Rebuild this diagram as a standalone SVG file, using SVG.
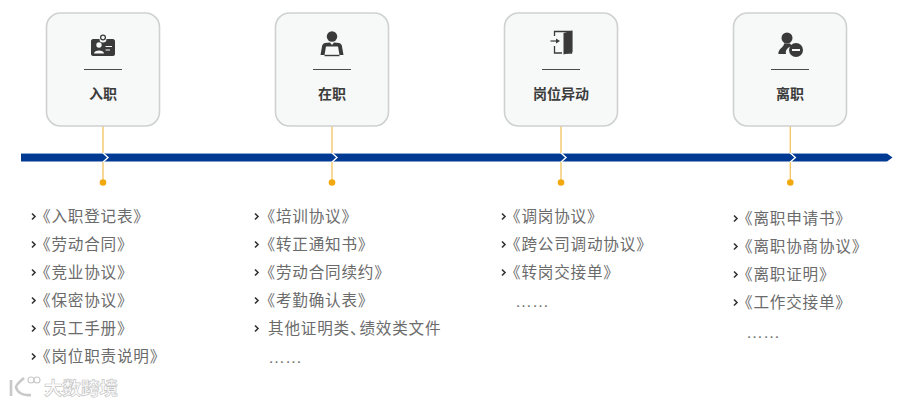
<svg xmlns="http://www.w3.org/2000/svg" width="905" height="405" viewBox="0 0 905 405">
<style>
.card{fill:#f7f8f8;stroke:#cfd1d1;stroke-width:1.6}
.div{stroke:#4a4a4a;stroke-width:1;fill:none}
.title{font:700 14px "Noto Sans CJK SC","Noto Sans CJK JP",sans-serif;fill:#3c3c3c;text-anchor:middle}
.item{font:400 15.6px "Noto Sans CJK SC","Noto Sans CJK JP",sans-serif;fill:#6b6b6b;letter-spacing:.8px}
.dots{font:400 17px "Liberation Sans",sans-serif;fill:#777}
.bul{fill:none;stroke:#333;stroke-width:1.6}
.link{stroke:#f3c35f;stroke-width:1.3;fill:none}
.dot{fill:#f2a90f}
.chev{fill:none;stroke:#fff;stroke-width:1.4}
.ico{fill:#3a3a3a}
.wm{font:700 18.500px "Noto Sans CJK SC","Noto Sans CJK JP",sans-serif;fill:#fff;stroke:#c6c6c6;stroke-width:.7}
</style>
<rect width="905" height="405" fill="#fff"/>
<g id="timeline">
<path d="M21 153.500H887L892.500 157.500L887 161.500H21Z" fill="#003a92"/>
<path d="M21 153.500H887" stroke="#8fb0d8" stroke-width=".7" fill="none"/>
</g>
<g id="connectors">
<path class="link" d="M103 126V153M103 162V182"/>
<path class="link" d="M332 126V153M332 162V182"/>
<path class="link" d="M561 126V153M561 162V182"/>
<path class="link" d="M790.300 126V153M790.300 162V182"/>
<path class="chev" d="M103 153L108 157.500L103 162"/>
<path class="chev" d="M332 153L337 157.500L332 162"/>
<path class="chev" d="M561 153L566 157.500L561 162"/>
<path class="chev" d="M790.300 153L795.300 157.500L790.300 162"/>
<circle class="dot" cx="103" cy="182.500" r="3.300"/>
<circle class="dot" cx="332" cy="182.500" r="3.300"/>
<circle class="dot" cx="561" cy="182.500" r="3.300"/>
<circle class="dot" cx="790.300" cy="182.500" r="3.300"/>
</g>
<g id="node-1">
<rect class="card" x="46.500" y="13" width="113" height="113" rx="14"/>
<path class="ico" d="M93 39H99.500A3.500 3.500 0 0 0 106.500 39H113C114 39 115 40 115 41V54C115 55 114 56 113 56H93C92 56 91 55 91 54V41C91 40 92 39 93 39Z"/>
<circle cx="103" cy="37.500" r="2.400" fill="none" stroke="#3a3a3a" stroke-width="1.300"/>
<circle cx="99" cy="45" r="2.700" fill="#f7f8f8"/>
<path d="M94 53.500C94 49.500 104 49.500 104 53.500Z" fill="#f7f8f8"/>
<path d="M105.500 46.500H112M105.500 50H110" stroke="#f7f8f8" stroke-width="1.100"/>
<path class="div" d="M84 69.500H122"/>
<text class="title" x="103" y="98.500">入职</text>
</g>
<g id="node-2">
<rect class="card" x="275.500" y="13" width="113" height="113" rx="14"/>
<circle class="ico" cx="332" cy="36.500" r="5.200"/>
<path class="ico" d="M325 43L330 42.500L332 45L334 42.500L339 43C341 43.500 342 45 342 46.500L343.500 55H339.500L338 46.500H326L324.500 55H320.500L322 46.500C322 45 323 43.500 325 43Z"/>
<path d="M324.500 55.500H339.500" stroke="#3a3a3a" stroke-width="1.400"/>
<path class="div" d="M313 69.500H351"/>
<text class="title" x="332" y="98.500">在职</text>
</g>
<g id="node-3">
<rect class="card" x="504.500" y="13" width="113" height="113" rx="14"/>
<path d="M554.500 36V31.500H571.500V53H564M554.500 46V53H562" fill="none" stroke="#3a3a3a" stroke-width="1.300"/>
<path class="ico" d="M563.500 33L572.500 30.500V52L563.500 54.500Z"/>
<path d="M550.500 41H558" stroke="#3a3a3a" stroke-width="1.200"/>
<path class="ico" d="M556 38.500L560 41L556 43.500Z"/>
<path class="div" d="M542 69.500H580"/>
<text class="title" x="561" y="98.500">岗位异动</text>
</g>
<g id="node-4">
<rect class="card" x="733.500" y="13" width="113" height="113" rx="14"/>
<circle class="ico" cx="787" cy="38" r="5.500"/>
<path class="ico" d="M784 43.500L790 43.500L792 46C788 47 785 50 786 54H779C778 54 778 53 779 51C780 48 784 47 784 43.500Z"/>
<circle class="ico" cx="796" cy="50" r="7"/>
<path d="M792 50H800" stroke="#f7f8f8" stroke-width="2"/>
<path class="div" d="M771 69.500H809"/>
<text class="title" x="790" y="98.500">离职</text>
</g>
<g id="list-1">
<path class="bul" d="M32 213.500L35 216.500L32 219.500M32 241.500L35 244.500L32 247.500M32 269.500L35 272.500L32 275.500M32 297.500L35 300.500L32 303.500M32 325.500L35 328.500L32 331.500M32 353.500L35 356.500L32 359.500"/>
<text class="item" x="35" y="222">《入职登记表》</text>
<text class="item" x="35" y="250">《劳动合同》</text>
<text class="item" x="35" y="278">《竞业协议》</text>
<text class="item" x="35" y="306">《保密协议》</text>
<text class="item" x="35" y="334">《员工手册》</text>
<text class="item" x="35" y="362">《岗位职责说明》</text>
</g>
<g id="list-2">
<path class="bul" d="M255 213.500L258 216.500L255 219.500M255 241.500L258 244.500L255 247.500M255 269.500L258 272.500L255 275.500M255 297.500L258 300.500L255 303.500M255 325.500L258 328.500L255 331.500"/>
<text class="item" x="259.500" y="222">《培训协议》</text>
<text class="item" x="259.500" y="250">《转正通知书》</text>
<text class="item" x="259.500" y="278">《劳动合同续约》</text>
<text class="item" x="259.500" y="306">《考勤确认表》</text>
<text class="item" x="268" y="334">其他证明类、<tspan dx="-7">绩效类文件</tspan></text>
<text class="dots" x="268" y="363">……</text>
</g>
<g id="list-3">
<path class="bul" d="M502 213.500L505 216.500L502 219.500M502 241.500L505 244.500L502 247.500M502 269.500L505 272.500L502 275.500"/>
<text class="item" x="505" y="222">《调岗协议》</text>
<text class="item" x="505" y="250">《跨公司调动协议》</text>
<text class="item" x="505" y="278">《转岗交接单》</text>
<text class="dots" x="515" y="307">……</text>
</g>
<g id="list-4">
<path class="bul" d="M734 215.500L737 218.500L734 221.500M734 243.500L737 246.500L734 249.500M734 271.500L737 274.500L734 277.500M734 299.500L737 302.500L734 305.500"/>
<text class="item" x="737" y="224">《离职申请书》</text>
<text class="item" x="737" y="252">《离职协商协议》</text>
<text class="item" x="737" y="280">《离职证明》</text>
<text class="item" x="737" y="308">《工作交接单》</text>
<text class="dots" x="746" y="338">……</text>
</g>
<text class="dots" x="44" y="392" style="fill:#999;font-size:10px">……</text>
<g id="watermark">
<path d="M11 380V396M24 378C18 383 16 385 16 387C17 392 22 396 31 395" fill="none" stroke="#c8c8c8" stroke-width="2.600"/>
<circle cx="31" cy="380" r="3" fill="none" stroke="#c8c8c8" stroke-width="1.100"/>
<circle cx="37" cy="380" r="3" fill="none" stroke="#c8c8c8" stroke-width="1.100"/>
<text class="wm" x="44" y="395">大数跨境</text>
</g>
</svg>
